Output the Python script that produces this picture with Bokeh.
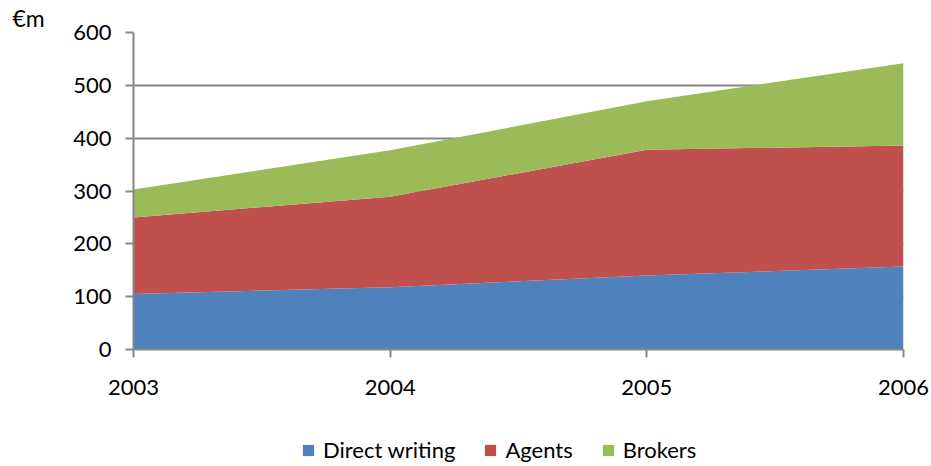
from bokeh.plotting import figure
from bokeh.layouts import column
from bokeh.models import ColumnDataSource, Range1d, Legend, LegendItem, FixedTicker
from bokeh.embed import file_html
from bokeh.resources import INLINE

years = [2003, 2004, 2005, 2006]
direct_writing = [105, 118, 140, 157]
agents = [145, 171, 238, 229]
brokers = [53, 88, 92, 156]
series_names = ["Direct writing", "Agents", "Brokers"]
colors = ["#4F81BD", "#C0504D", "#9BBB59"]
y_ticks = [0, 100, 200, 300, 400, 500, 600]

FONT = "Lato"
GRAY = "#868686"

source = ColumnDataSource(dict(x=years, d=direct_writing, a=agents, b=brokers))

p = figure(width=931, height=410, output_backend="svg", toolbar_location=None,
           x_range=Range1d(2003, 2006), y_range=Range1d(0, 600),
           min_border_left=133, min_border_right=28, min_border_top=29, min_border_bottom=61)
p.outline_line_color = None

p.title.text = "€m"
p.title.align = "left"
p.title.offset = -121
p.title.standoff = 2
p.title.text_font = FONT
p.title.text_font_size = "23px"
p.title.text_font_style = "normal"
p.title.text_color = "#000000"

p.varea_stack(["d", "a", "b"], x="x", color=colors, source=source)

for ax in (p.xaxis[0], p.yaxis[0]):
    ax.axis_line_color = GRAY
    ax.axis_line_width = 2
    ax.major_tick_line_color = GRAY
    ax.major_tick_line_width = 2
    ax.major_tick_out = 8
    ax.major_tick_in = 0
    ax.minor_tick_line_color = None
    ax.major_label_text_font = FONT
    ax.major_label_text_font_size = "22px"
    ax.major_label_text_color = "#000000"

p.xaxis.ticker = FixedTicker(ticks=years)
p.xaxis.major_label_standoff = 22
p.yaxis.ticker = FixedTicker(ticks=y_ticks)
p.yaxis.major_label_standoff = 14

p.xgrid.grid_line_color = None
p.ygrid.grid_line_color = GRAY
p.ygrid.grid_line_width = 2
p.ygrid.ticker = FixedTicker(ticks=y_ticks)

# legend strip (same series, drawn off-range so only the legend shows)
lg = figure(width=931, height=56, output_backend="svg", toolbar_location=None,
            x_range=Range1d(2003, 2006), y_range=Range1d(1000, 1100),
            min_border_left=0, min_border_right=0, min_border_top=0, min_border_bottom=0)
lg.axis.visible = False
lg.grid.visible = False
lg.outline_line_color = None
lrends = lg.varea_stack(["d", "a", "b"], x="x", color=colors, source=source)

items = [LegendItem(label=n, renderers=[r]) for n, r in zip(series_names, lrends)]
legend = Legend(items=items, orientation="horizontal", location=(168, 3),
                glyph_width=14, glyph_height=14, label_standoff=8, spacing=28,
                padding=0, margin=0, border_line_color=None, background_fill_alpha=0,
                label_text_font=FONT, label_text_font_size="22px", label_text_color="#000000")
lg.add_layout(legend, "center")

layout = column(p, lg, spacing=0)
open("out.html", "w").write(file_html(layout, INLINE))
